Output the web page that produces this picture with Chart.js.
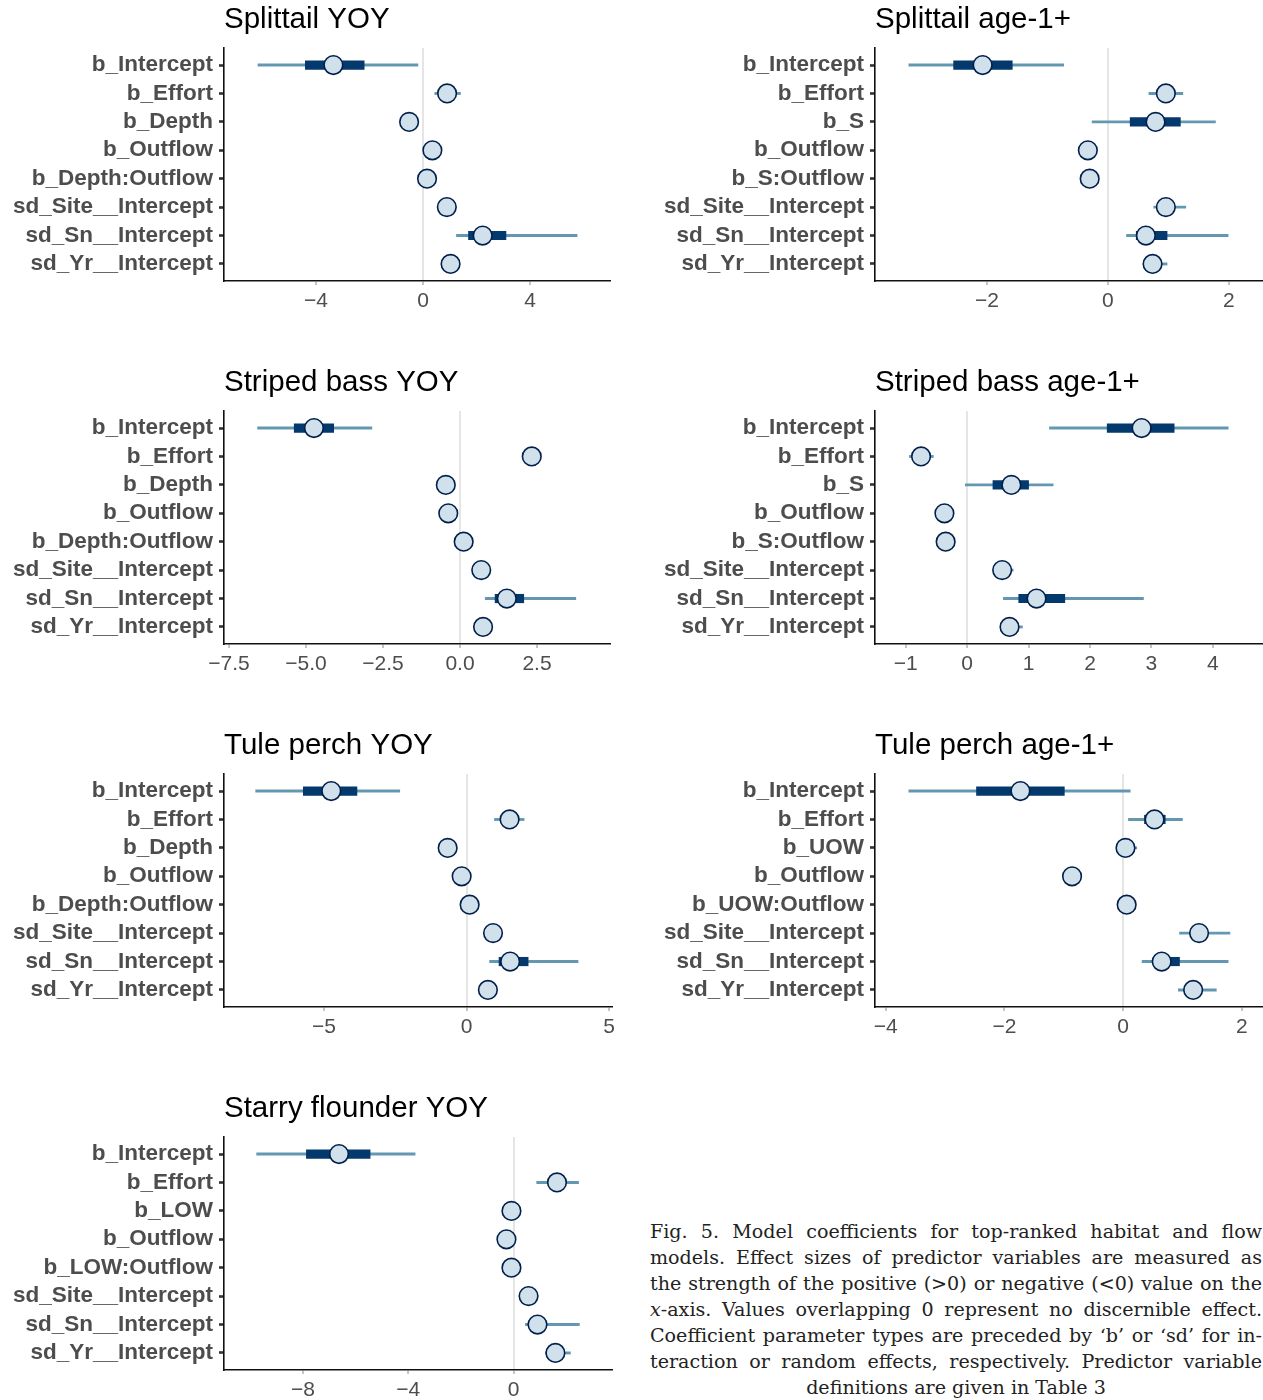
<!DOCTYPE html>
<html>
<head>
<meta charset="utf-8">
<title>Model coefficients</title>
<script src="https://cdn.jsdelivr.net/npm/chart.js@4.4.1/dist/chart.umd.min.js"></script>
<style>
  html, body { margin: 0; padding: 0; background: #fff; }
  body { position: relative; width: 1263px; height: 1400px; overflow: hidden; }
  canvas { position: absolute; }
  #caption {
    position: absolute; left: 650px; top: 1219px; width: 612px;
    font-family: "DejaVu Serif", "Liberation Serif", serif;
    font-size: 19.1px; line-height: 26px; color: #222;
  }
  #caption div { text-align: justify; text-align-last: justify; white-space: nowrap; }
  #caption div.last { text-align: center; text-align-last: center; }
</style>
</head>
<body>
<canvas id="p1" width="620" height="320" style="left:0;top:0"></canvas>
<canvas id="p2" width="612" height="320" style="left:651px;top:0"></canvas>
<canvas id="p3" width="620" height="320" style="left:0;top:363px"></canvas>
<canvas id="p4" width="612" height="320" style="left:651px;top:363px"></canvas>
<canvas id="p5" width="620" height="320" style="left:0;top:726px"></canvas>
<canvas id="p6" width="612" height="320" style="left:651px;top:726px"></canvas>
<canvas id="p7" width="620" height="320" style="left:0;top:1089px"></canvas>

<div id="caption">
  <div>Fig. 5. Model coefficients for top-ranked habitat and flow</div>
  <div>models. Effect sizes of predictor variables are measured as</div>
  <div>the strength of the positive (&gt;0) or negative (&lt;0) value on the</div>
  <div><i>x</i>-axis. Values overlapping 0 represent no discernible effect.</div>
  <div>Coefficient parameter types are preceded by ‘b’ or ‘sd’ for in-</div>
  <div>teraction or random effects, respectively. Predictor variable</div>
  <div class="last">definitions are given in Table 3</div>
</div>

<script>
// Posterior summaries per model: median, 50% interval (inner), 90% interval (outer)

// Splittail YOY
const splittailYoyParams = ['b_Intercept', 'b_Effort', 'b_Depth', 'b_Outflow', 'b_Depth:Outflow', 'sd_Site__Intercept', 'sd_Sn__Intercept', 'sd_Yr__Intercept'];
const splittailYoyMedian = [-3.35, 0.90, -0.52, 0.35, 0.15, 0.89, 2.23, 1.03];
const splittailYoyInner = [[-4.40, -2.20], [0.75, 1.05], [-0.62, -0.42], [0.27, 0.43], [0.07, 0.23], [0.80, 0.98], [1.70, 3.10], [0.92, 1.14]];
const splittailYoyOuter = [[-6.17, -0.19], [0.44, 1.40], [-0.75, -0.30], [0.18, 0.52], [-0.05, 0.35], [0.65, 1.12], [1.25, 5.76], [0.80, 1.30]];
const splittailYoyTicks = [-4, 0, 4];
const splittailYoyTickLabels = ['−4', '0', '4'];

// Splittail age-1+
const splittailAdultParams = ['b_Intercept', 'b_Effort', 'b_S', 'b_Outflow', 'b_S:Outflow', 'sd_Site__Intercept', 'sd_Sn__Intercept', 'sd_Yr__Intercept'];
const splittailAdultMedian = [-2.07, 0.96, 0.79, -0.33, -0.30, 0.96, 0.63, 0.74];
const splittailAdultInner = [[-2.55, -1.58], [0.88, 1.05], [0.37, 1.20], [-0.38, -0.28], [-0.35, -0.25], [0.88, 1.04], [0.47, 0.98], [0.67, 0.82]];
const splittailAdultOuter = [[-3.29, -0.73], [0.68, 1.24], [-0.26, 1.78], [-0.45, -0.21], [-0.42, -0.19], [0.76, 1.29], [0.31, 1.99], [0.60, 0.98]];
const splittailAdultTicks = [-2, 0, 2];
const splittailAdultTickLabels = ['−2', '0', '2'];

// Striped bass YOY
const stripedYoyParams = ['b_Intercept', 'b_Effort', 'b_Depth', 'b_Outflow', 'b_Depth:Outflow', 'sd_Site__Intercept', 'sd_Sn__Intercept', 'sd_Yr__Intercept'];
const stripedYoyMedian = [-4.74, 2.33, -0.46, -0.38, 0.12, 0.69, 1.52, 0.75];
const stripedYoyInner = [[-5.38, -4.10], [2.23, 2.43], [-0.53, -0.39], [-0.45, -0.31], [0.05, 0.19], [0.62, 0.76], [1.14, 2.07], [0.67, 0.83]];
const stripedYoyOuter = [[-6.57, -2.86], [2.10, 2.56], [-0.64, -0.28], [-0.56, -0.20], [-0.06, 0.30], [0.50, 0.88], [0.82, 3.76], [0.57, 0.94]];
const stripedYoyTicks = [-7.5, -5, -2.5, 0, 2.5];
const stripedYoyTickLabels = ['−7.5', '−5.0', '−2.5', '0.0', '2.5'];

// Striped bass age-1+
const stripedAdultParams = ['b_Intercept', 'b_Effort', 'b_S', 'b_Outflow', 'b_S:Outflow', 'sd_Site__Intercept', 'sd_Sn__Intercept', 'sd_Yr__Intercept'];
const stripedAdultMedian = [2.84, -0.75, 0.72, -0.37, -0.35, 0.57, 1.13, 0.69];
const stripedAdultInner = [[2.28, 3.37], [-0.82, -0.68], [0.42, 1.00], [-0.42, -0.32], [-0.40, -0.30], [0.50, 0.64], [0.84, 1.59], [0.62, 0.77]];
const stripedAdultOuter = [[1.34, 4.25], [-0.94, -0.55], [-0.03, 1.40], [-0.48, -0.26], [-0.46, -0.24], [0.45, 0.75], [0.59, 2.87], [0.58, 0.90]];
const stripedAdultTicks = [-1, 0, 1, 2, 3, 4];
const stripedAdultTickLabels = ['−1', '0', '1', '2', '3', '4'];

// Tule perch YOY
const tuleYoyParams = ['b_Intercept', 'b_Effort', 'b_Depth', 'b_Outflow', 'b_Depth:Outflow', 'sd_Site__Intercept', 'sd_Sn__Intercept', 'sd_Yr__Intercept'];
const tuleYoyMedian = [-4.74, 1.51, -0.66, -0.17, 0.11, 0.93, 1.53, 0.75];
const tuleYoyInner = [[-5.72, -3.84], [1.30, 1.72], [-0.75, -0.57], [-0.25, -0.09], [0.03, 0.19], [0.84, 1.02], [1.14, 2.16], [0.66, 0.84]];
const tuleYoyOuter = [[-7.39, -2.34], [0.98, 2.02], [-0.88, -0.44], [-0.38, 0.04], [-0.10, 0.32], [0.72, 1.14], [0.81, 3.91], [0.55, 0.97]];
const tuleYoyTicks = [-5, 0, 5];
const tuleYoyTickLabels = ['−5', '0', '5'];

// Tule perch age-1+
const tuleAdultParams = ['b_Intercept', 'b_Effort', 'b_UOW', 'b_Outflow', 'b_UOW:Outflow', 'sd_Site__Intercept', 'sd_Sn__Intercept', 'sd_Yr__Intercept'];
const tuleAdultMedian = [-1.73, 0.53, 0.04, -0.86, 0.06, 1.28, 0.65, 1.18];
const tuleAdultInner = [[-2.47, -0.99], [0.36, 0.71], [-0.03, 0.11], [-0.92, -0.80], [0.00, 0.12], [1.16, 1.40], [0.51, 0.95], [1.08, 1.30]];
const tuleAdultOuter = [[-3.61, 0.12], [0.09, 1.00], [-0.09, 0.23], [-0.96, -0.76], [-0.06, 0.18], [0.95, 1.80], [0.32, 1.77], [0.93, 1.57]];
const tuleAdultTicks = [-4, -2, 0, 2];
const tuleAdultTickLabels = ['−4', '−2', '0', '2'];

// Starry flounder YOY
const flounderYoyParams = ['b_Intercept', 'b_Effort', 'b_LOW', 'b_Outflow', 'b_LOW:Outflow', 'sd_Site__Intercept', 'sd_Sn__Intercept', 'sd_Yr__Intercept'];
const flounderYoyMedian = [-6.63, 1.65, -0.08, -0.27, -0.08, 0.57, 0.91, 1.59];
const flounderYoyInner = [[-7.87, -5.45], [1.35, 1.95], [-0.25, 0.09], [-0.45, -0.09], [-0.25, 0.09], [0.40, 0.74], [0.66, 1.20], [1.35, 1.85]];
const flounderYoyOuter = [[-9.76, -3.74], [0.88, 2.47], [-0.38, 0.22], [-0.58, 0.04], [-0.38, 0.22], [0.27, 0.88], [0.45, 2.50], [1.21, 2.16]];
const flounderYoyTicks = [-8, -4, 0];
const flounderYoyTickLabels = ['−8', '−4', '0'];

// ---- styling ----
const SANS = '"Liberation Sans", Arial, Helvetica, sans-serif';
const COLOR_LIGHT = '#d1e1ec';
const COLOR_MID = '#6497b1';
const COLOR_DARK = '#03396c';
const COLOR_DARK_HI = '#011f4b';

Chart.defaults.font.family = SANS;
Chart.defaults.animation = false;

const panels = [
  { canvas: 'p1', title: 'Splittail YOY', params: splittailYoyParams, median: splittailYoyMedian, inner: splittailYoyInner, outer: splittailYoyOuter, ticks: splittailYoyTicks, tickLabels: splittailYoyTickLabels, xMin: -7.44, xMax: 6.99, padRight: 10 },
  { canvas: 'p2', title: 'Splittail age-1+', params: splittailAdultParams, median: splittailAdultMedian, inner: splittailAdultInner, outer: splittailAdultOuter, ticks: splittailAdultTicks, tickLabels: splittailAdultTickLabels, xMin: -3.85, xMax: 2.55, padRight: 1 },
  { canvas: 'p3', title: 'Striped bass YOY', params: stripedYoyParams, median: stripedYoyMedian, inner: stripedYoyInner, outer: stripedYoyOuter, ticks: stripedYoyTicks, tickLabels: stripedYoyTickLabels, xMin: -7.66, xMax: 4.87, padRight: 10 },
  { canvas: 'p4', title: 'Striped bass age-1+', params: stripedAdultParams, median: stripedAdultMedian, inner: stripedAdultInner, outer: stripedAdultOuter, ticks: stripedAdultTicks, tickLabels: stripedAdultTickLabels, xMin: -1.50, xMax: 4.80, padRight: 1 },
  { canvas: 'p5', title: 'Tule perch YOY', params: tuleYoyParams, median: tuleYoyMedian, inner: tuleYoyInner, outer: tuleYoyOuter, ticks: tuleYoyTicks, tickLabels: tuleYoyTickLabels, xMin: -8.5, xMax: 5.1, padRight: 8 },
  { canvas: 'p6', title: 'Tule perch age-1+', params: tuleAdultParams, median: tuleAdultMedian, inner: tuleAdultInner, outer: tuleAdultOuter, ticks: tuleAdultTicks, tickLabels: tuleAdultTickLabels, xMin: -4.18, xMax: 2.34, padRight: 1 },
  { canvas: 'p7', title: 'Starry flounder YOY', params: flounderYoyParams, median: flounderYoyMedian, inner: flounderYoyInner, outer: flounderYoyOuter, ticks: flounderYoyTicks, tickLabels: flounderYoyTickLabels, xMin: -11.0, xMax: 3.74, padRight: 8 }
];

function drawPanel(p) {
  const rows = p.params.map((_, i) => i + 1);
  return new Chart(document.getElementById(p.canvas), {
    type: 'bar',
    data: {
      datasets: [
        {
          type: 'scatter',
          label: 'median',
          data: p.median.map((v, i) => ({ x: v, y: rows[i] })),
          pointRadius: 9.3,
          pointHoverRadius: 9.3,
          pointBackgroundColor: COLOR_LIGHT,
          pointBorderColor: COLOR_DARK_HI,
          pointBorderWidth: 1.6,
          order: 0
        },
        {
          type: 'bar',
          label: '50% interval',
          indexAxis: 'y',
          data: p.inner.map((r, i) => ({ x: r, y: rows[i] })),
          backgroundColor: COLOR_DARK,
          barThickness: 8.5,
          grouped: false,
          borderWidth: 0,
          order: 1
        },
        {
          type: 'bar',
          label: '90% interval',
          indexAxis: 'y',
          data: p.outer.map((r, i) => ({ x: r, y: rows[i] })),
          backgroundColor: COLOR_MID,
          barThickness: 2.2,
          grouped: false,
          borderWidth: 0,
          order: 2
        }
      ]
    },
    options: {
      responsive: false,
      animation: false,
      devicePixelRatio: 1,
      layout: { autoPadding: false, padding: { left: 0, right: p.padRight, top: 0, bottom: 0 } },
      plugins: {
        legend: { display: false },
        tooltip: { enabled: false },
        title: {
          display: true,
          text: p.title,
          align: 'start',
          fullSize: false,
          color: '#000',
          font: { family: SANS, size: 29.5, weight: 'normal', lineHeight: 1.2 },
          padding: { top: 2, bottom: 10.6 }
        }
      },
      scales: {
        x: {
          type: 'linear',
          position: 'bottom',
          offset: false,
          beginAtZero: false,
          min: p.xMin,
          max: p.xMax,
          afterBuildTicks: s => { s.ticks = p.ticks.map(v => ({ value: v })); },
          afterFit: s => { s.height = 39; },
          grid: {
            offset: false,
            color: c => (c.tick && c.tick.value === 0) ? '#e5e5e5' : 'rgba(0,0,0,0)',
            lineWidth: 2,
            drawTicks: true,
            tickLength: 4,
            tickWidth: 1,
            tickColor: '#8c8c8c'
          },
          border: { display: true, color: '#111', width: 1.6 },
          ticks: {
            callback: (v, i) => p.tickLabels[i],
            font: { family: SANS, size: 21 },
            color: '#4d4d4d',
            padding: 4,
            maxRotation: 0,
            autoSkip: false
          }
        },
        y: {
          type: 'linear',
          position: 'left',
          reverse: true,
          offset: false,
          beginAtZero: false,
          min: 0.4,
          max: 8.6,
          afterBuildTicks: s => { s.ticks = rows.map(v => ({ value: v })); },
          afterFit: s => { s.width = 224; },
          grid: {
            offset: false,
            drawOnChartArea: false,
            drawTicks: true,
            tickLength: 5,
            tickWidth: 2.6,
            color: '#333'
          },
          border: { display: true, color: '#111', width: 1.6 },
          ticks: {
            callback: (v, i) => p.params[i],
            font: { family: SANS, size: 22.5, weight: 'bold' },
            color: '#4d4d4d',
            padding: 6,
            autoSkip: false
          }
        }
      }
    }
  });
}

panels.forEach(drawPanel);
</script>
</body>
</html>
